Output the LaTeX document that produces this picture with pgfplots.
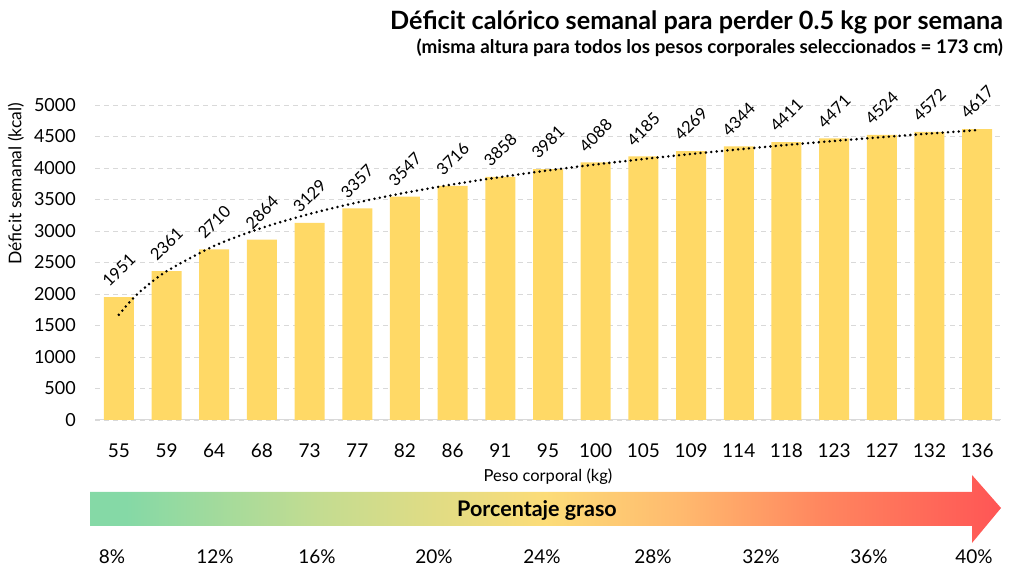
\documentclass[border=0pt]{standalone}
\usepackage{pgfplots}
\pgfplotsset{compat=1.18}
\usepackage{fontspec}
\setmainfont{Lato}
\definecolor{barc}{HTML}{FFD966}
\definecolor{gridc}{HTML}{D9D9D9}
\definecolor{g1}{RGB}{133,217,166}
\definecolor{g2}{RGB}{195,220,145}
\definecolor{g3}{RGB}{252,220,120}
\definecolor{g4}{RGB}{255,185,110}
\definecolor{g5}{RGB}{255,135,95}
\definecolor{g6}{RGB}{255,85,85}
\pgfdeclarehorizontalshading{fatshade}{100bp}{color(0bp)=(g1); color(27bp)=(g1); color(37.5bp)=(g2); color(50bp)=(g3); color(57.5bp)=(g4); color(65bp)=(g5); color(75bp)=(g6); color(100bp)=(g6)}
\pgfkeys{/pgf/number format/1000 sep={}}
\begin{document}
\begin{tikzpicture}[x=1bp,y=1bp]
\useasboundingbox (0,0) rectangle (1024,581);
\begin{axis}[
  at={(95bp,161bp)}, anchor=south west,
  scale only axis, width=906bp, height=315bp,
  xmin=-0.5, xmax=18.5, ymin=0, ymax=5000,
  xtick={0,...,18},
  xticklabels={55,59,64,68,73,77,82,86,91,95,100,105,109,114,118,123,127,132,136},
  ytick={0,500,...,5000},
  /pgf/number format/assume math mode=true,
  major tick length=0pt,
  axis lines*=left,
  x axis line style={-, draw=gridc, line width=1bp},
  y axis line style={draw=none},
  ymajorgrids,
  major grid style={draw=gridc, dash pattern=on 5bp off 4bp, line width=0.8bp},
  xticklabel style={font=\fontsize{19bp}{22bp}\selectfont, anchor=center, yshift=-31bp},
  yticklabel style={font=\fontsize{18bp}{21bp}\selectfont, anchor=east, inner sep=0pt, xshift=-19bp},
  xlabel={Peso corporal (kg)},
  xlabel style={font=\fontsize{16.5bp}{19bp}\selectfont, at={(axis description cs:0.5,-0.181)}, anchor=center},
  ylabel={Déficit semanal (kcal)},
  ylabel style={font=\fontsize{17.5bp}{20bp}\selectfont, at={(axis description cs:-0.0872,0.75)}, anchor=center},
  clip=false,
]
\addplot[ybar, bar width=30bp, bar shift=0pt, fill=barc, draw=none,
  nodes near coords,
  every node near coord/.append style={font=\fontsize{16.5bp}{18bp}\selectfont, anchor=center, yshift=27bp, rotate=45},
] coordinates {
(0,1951) (1,2361) (2,2710) (3,2864) (4,3129) (5,3357) (6,3547) (7,3716) (8,3858) (9,3981)
(10,4088) (11,4185) (12,4269) (13,4344) (14,4411) (15,4471) (16,4524) (17,4572) (18,4617)
};
\addplot[black, line width=2.8bp, dash pattern=on 0bp off 5.4bp, line cap=round, smooth, mark=none] coordinates {
(0,1670) (0.25,1892) (0.5,2073) (1,2360) (2,2763) (3,3049) (4,3271) (5,3453) (6,3606) (7,3739)
(8,3856) (9,3961) (10,4056) (11,4142) (12,4222) (13,4296) (14,4365) (15,4429) (16,4489) (17,4546) (18,4600)
};
\end{axis}
\node[anchor=base east, font=\fontsize{25.2bp}{28bp}\selectfont\bfseries, inner sep=0pt] at (1003,551) {Déficit calórico semanal para perder 0.5 kg por semana};
\node[anchor=base east, font=\fontsize{18.8bp}{21bp}\selectfont\bfseries, inner sep=0pt] at (1003,527) {(misma altura para todos los pesos corporales seleccionados = 173 cm)};
\shade[shading=fatshade] (90,55) -- (972,55) -- (972,38) -- (1001,73) -- (972,106) -- (972,89) -- (90,89) -- cycle;
\node[font=\fontsize{21.5bp}{24bp}\selectfont\bfseries] at (537,71) {Porcentaje graso};
\foreach \xx/\tt in {112/8,215/12,317/16,434/20,542/24,653/28,761/32,869/36,974/40}
  \node[font=\fontsize{19bp}{22bp}\selectfont] at (\xx,24) {\tt\%};
\end{tikzpicture}
\end{document}
